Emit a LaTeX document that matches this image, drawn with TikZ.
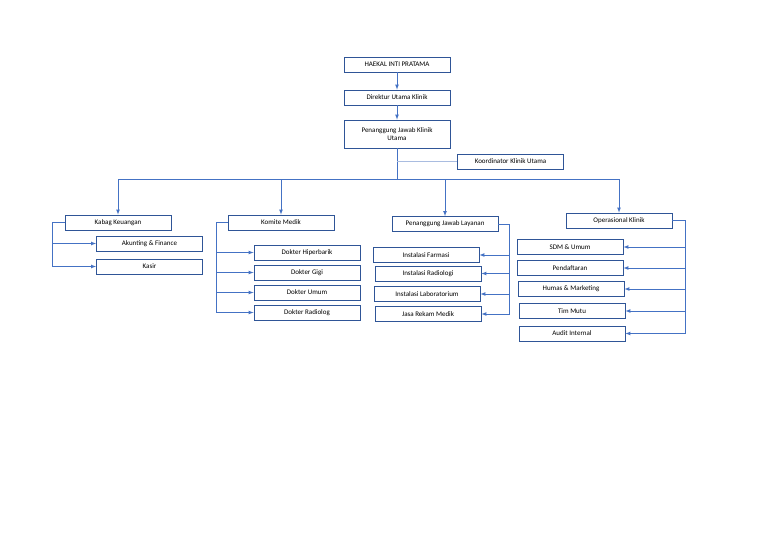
\documentclass[tikz,border=0pt]{standalone}
\usepackage{fontspec}
\setmainfont{Carlito}
\usetikzlibrary{arrows}
\definecolor{boxblue}{HTML}{2F5597}
\definecolor{lineblue}{HTML}{4472C4}
\definecolor{paleblue}{HTML}{A9BCE0}

\begin{document}
\begin{tikzpicture}[x=1pt,y=-1pt,>=latex,
  unit/.style={draw=boxblue,fill=white,line width=0.8pt,minimum width=106pt,minimum height=15pt,inner sep=1pt,font=\fontsize{7}{7.5}\selectfont},
  link/.style={draw=lineblue,line width=0.7pt}]
  \useasboundingbox (0,0) rectangle (768,543);

  % top of the chart
  \node[unit] (haekal) at (397,64.5) {HAEKAL INTI PRATAMA};
  \node[unit] (dirut) at (397,97.5) {Direktur Utama Klinik};
  \node[unit,minimum height=28pt,align=center] (pjklinik) at (397,134) {Penanggung Jawab Klinik\\Utama};
  \node[unit] (koord) at (510.5,161.5) {Koordinator Klinik Utama};

  % second level
  \node[unit] (kabag) at (118,222.5) {Kabag Keuangan};
  \node[unit] (komite) at (281,222.5) {Komite Medik};
  \node[unit] (pjlayanan) at (445,224) {Penanggung Jawab Layanan};
  \node[unit] (ops) at (619,220.5) {Operasional Klinik};

  % third level
  \node[unit] (akunting) at (149.5,243.5) {Akunting \& Finance};
  \node[unit] (kasir) at (149.5,266.5) {Kasir};
  \node[unit] (hiperbarik) at (307,252.5) {Dokter Hiperbarik};
  \node[unit] (gigi) at (307,272.5) {Dokter Gigi};
  \node[unit] (umum) at (307,292.5) {Dokter Umum};
  \node[unit] (radiolog) at (307,312.5) {Dokter Radiolog};
  \node[unit] (farmasi) at (426,255) {Instalasi Farmasi};
  \node[unit] (radiologi) at (428,273.5) {Instalasi Radiologi};
  \node[unit] (lab) at (427,294) {Instalasi Laboratorium};
  \node[unit] (rekam) at (428,314) {Jasa Rekam Medik};
  \node[unit] (sdm) at (570,247) {SDM \& Umum};
  \node[unit] (daftar) at (570,268) {Pendaftaran};
  \node[unit] (humas) at (571,289) {Humas \& Marketing};
  \node[unit] (mutu) at (572,311) {Tim Mutu};
  \node[unit] (audit) at (572,333.5) {Audit Internal};

  \coordinate (bus) at (397,179);
  \coordinate (kspine) at (52,266.5);
  \coordinate (mspine) at (216,312.5);
  \coordinate (lspine) at (509,314);
  \coordinate (ospine) at (685,333.5);

  \draw[link,->] (haekal) -- (dirut);
  \draw[link,->] (dirut) -- (pjklinik);
  \draw[link] (pjklinik) -- (bus);
  \draw[draw=paleblue,line width=0.7pt] (pjklinik.south |- koord) -- (koord.west);
  \draw[link,->] (bus) -| (kabag.north);
  \draw[link,->] (bus) -| (komite.north);
  \draw[link,->] (bus) -| (pjlayanan.north);
  \draw[link,->] (bus) -| (ops.north);

  % keuangan
  \draw[link,->] (kabag.west) -| (kspine) -- (kasir.west);
  \draw[link,->] (kspine |- akunting) -- (akunting.west);
  % komite medik
  \draw[link,->] (komite.west) -| (mspine) -- (radiolog.west);
  \draw[link,->] (mspine |- hiperbarik) -- (hiperbarik.west);
  \draw[link,->] (mspine |- gigi) -- (gigi.west);
  \draw[link,->] (mspine |- umum) -- (umum.west);
  % layanan
  \draw[link,->] (pjlayanan.east) -| (lspine) -- (rekam.east);
  \draw[link,->] (lspine |- farmasi) -- (farmasi.east);
  \draw[link,->] (lspine |- radiologi) -- (radiologi.east);
  \draw[link,->] (lspine |- lab) -- (lab.east);
  % operasional
  \draw[link,->] (ops.east) -| (ospine) -- (audit.east);
  \draw[link,->] (ospine |- sdm) -- (sdm.east);
  \draw[link,->] (ospine |- daftar) -- (daftar.east);
  \draw[link,->] (ospine |- humas) -- (humas.east);
  \draw[link,->] (ospine |- mutu) -- (mutu.east);
\end{tikzpicture}
\end{document}
